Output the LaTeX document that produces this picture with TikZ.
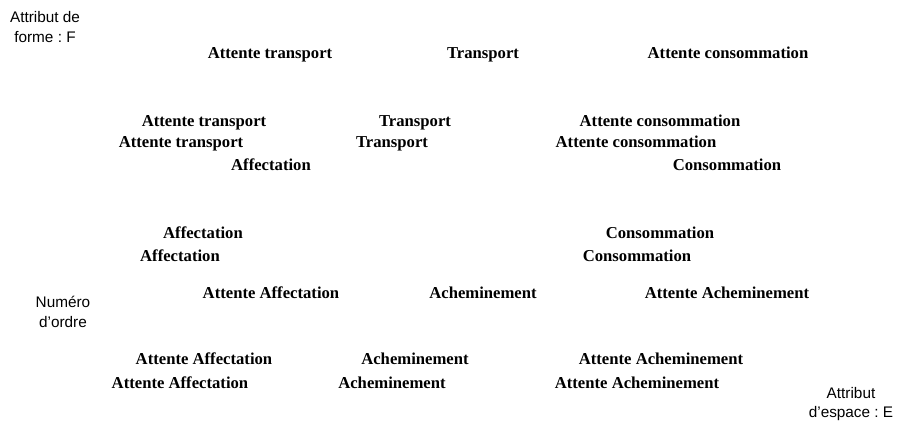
\documentclass[tikz,border=0pt]{standalone}
\usepackage{fontspec}
\setmainfont{Liberation Serif}
\setsansfont{Liberation Sans}
\usepackage{tikz}
\usetikzlibrary{positioning}
\frenchspacing
\tikzset{
  every picture/.style={x=0.75pt, y=-0.75pt},
  etat/.style={font=\fontsize{12.5}{14}\selectfont\bfseries, text=black, inner sep=0pt,
               text height=9pt, text depth=2.7pt},
  axe/.style={font=\sffamily\fontsize{11.5}{14.5}\selectfont, text=black, align=center, inner sep=0pt},
}
\begin{document}
\begin{tikzpicture}
  \useasboundingbox (0,0) rectangle (898,421);
  % axes
  \node[axe] (axeF) at (45,27) {Attribut de\\forme : F};
  \node[axe] (axeN) at (63,312) {Numéro\\d'ordre};
  \node[axe] (axeE) at (851,404) {Attribut\\d'espace : E};
  % plan arriere
  \node[etat] (atA) at (270,54) {Attente transport};
  \node[etat] (trA) at (483,54) {Transport};
  \node[etat] (acA) at (728,54) {Attente consommation};
  \node[etat] (afA) at (271,166) {Affectation};
  \node[etat] (coA) at (727,166) {Consommation};
  \node[etat] (aaA) at (271,294) {Attente Affectation};
  \node[etat] (chA) at (483,294) {Acheminement};
  \node[etat] (ahA) at (727,294) {Attente Acheminement};
  % plan milieu
  \node[etat] (atB) at (204,122) {Attente transport};
  \node[etat] (trB) at (415,122) {Transport};
  \node[etat] (acB) at (660,122) {Attente consommation};
  \node[etat] (afB) at (203,234) {Affectation};
  \node[etat] (coB) at (660,234) {Consommation};
  \node[etat] (aaB) at (204,360) {Attente Affectation};
  \node[etat] (chB) at (415,360) {Acheminement};
  \node[etat] (ahB) at (661,360) {Attente Acheminement};
  % plan avant
  \node[etat] (atC) at (181,143) {Attente transport};
  \node[etat] (trC) at (392,143) {Transport};
  \node[etat] (acC) at (636,143) {Attente consommation};
  \node[etat] (afC) at (180,257) {Affectation};
  \node[etat] (coC) at (637,257) {Consommation};
  \node[etat] (aaC) at (180,384) {Attente Affectation};
  \node[etat] (chC) at (392,384) {Acheminement};
  \node[etat] (ahC) at (637,384) {Attente Acheminement};
\end{tikzpicture}
\end{document}
